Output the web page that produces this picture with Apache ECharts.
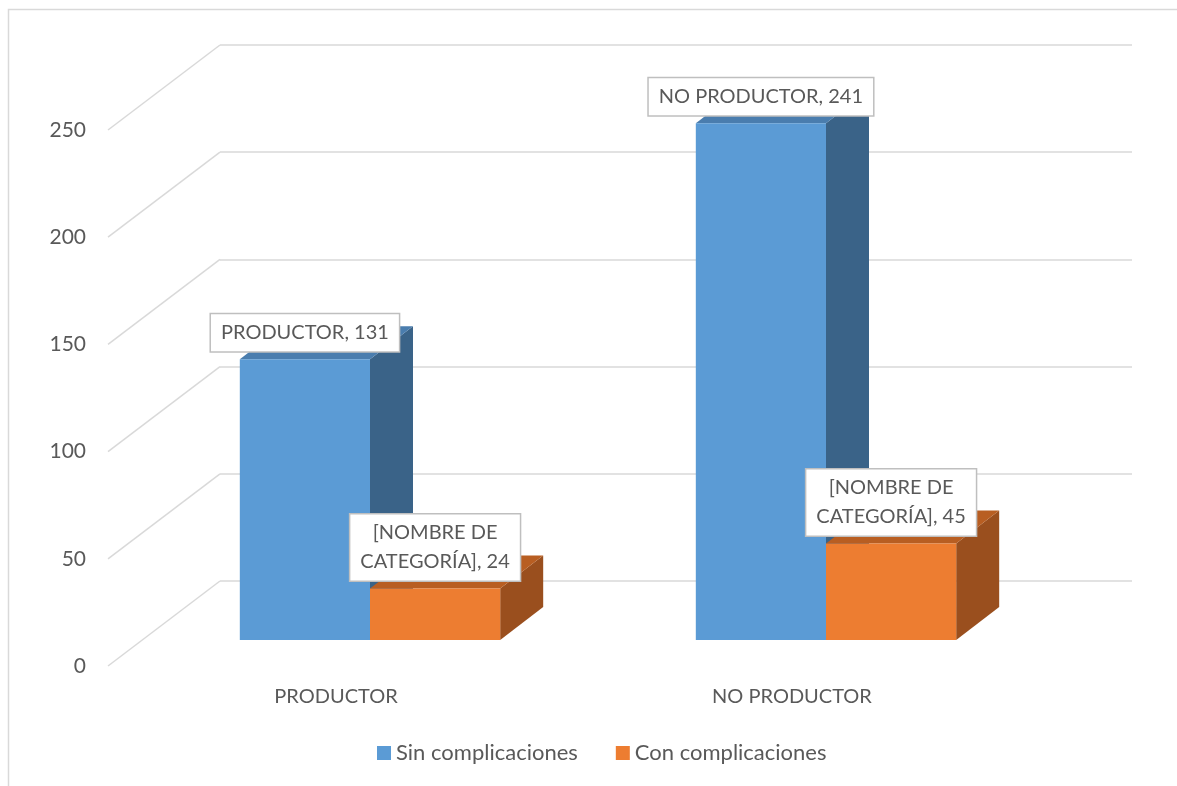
<!DOCTYPE html>
<html><head><meta charset="utf-8">
<script src="https://cdn.jsdelivr.net/npm/echarts@6/dist/echarts.min.js"></script>
<style>html,body{margin:0;padding:0;background:#fff}#c{width:1177px;height:786px}</style>
</head><body><div id="c"></div>
<script>
const categories = ['PRODUCTOR', 'NO PRODUCTOR'];
const seriesNames = ['Sin complicaciones', 'Con complicaciones'];
const sinValues = [131, 241];
const conValues = [24, 45];
const sinLabelNames = ['PRODUCTOR', 'NO PRODUCTOR'];
const conLabelNames = ['[NOMBRE DE\nCATEGORÍA]', '[NOMBRE DE\nCATEGORÍA]'];
const yTicks = [0, 50, 100, 150, 200, 250];
const yMin = 0, yMax = 250, yInterval = 50;

const FONT = 'Lato, "Open Sans", sans-serif';
const TXT = '#595959';
const GRIDC = '#D9D9D9';
const DEPTH_X = 112, DEPTH_Y = 85;
const BAR_DX = 43, BAR_DY = 33;

function barRender(side, colors, labelNames) {
  return function (params, api) {
    const idx = api.value(0), v = api.value(1);
    const base = api.coord([idx, 0]);
    const top = api.coord([idx, v]);
    const band = api.size([1, 0])[0];
    const w = band * 0.2855;
    const x0 = side === 0 ? base[0] - w : base[0];
    const x1 = x0 + w;
    const y0 = base[1], y1 = top[1];
    return {
      type: 'group',
      children: [
        { type: 'polygon', shape: { points: [[x1, y0], [x1 + BAR_DX, y0 - BAR_DY], [x1 + BAR_DX, y1 - BAR_DY], [x1, y1]] }, style: { fill: colors[2] } },
        { type: 'polygon', shape: { points: [[x0, y1], [x0 + BAR_DX, y1 - BAR_DY], [x1 + BAR_DX, y1 - BAR_DY], [x1, y1]] }, style: { fill: colors[1] } },
        { type: 'rect', shape: { x: x0, y: y1, width: w, height: y0 - y1 }, style: { fill: colors[0] } },
        { type: 'text', x: (x0 + x1) / 2, y: y1 - 8, z2: 10,
          style: { text: labelNames[idx] + ', ' + v, fontFamily: FONT, fontSize: 20, fill: TXT,
            align: 'center', verticalAlign: 'bottom', lineHeight: 29,
            backgroundColor: '#fff', borderColor: '#BFBFBF', borderWidth: 1.5, padding: [4, 10, 4, 10] } }
      ]
    };
  };
}

const chart = echarts.init(document.getElementById('c'));
chart.setOption({
  animation: false,
  backgroundColor: '#fff',
  graphic: [{ type: 'rect', shape: { x: 8.5, y: 9.5, width: 1200, height: 800 }, style: { fill: 'none', stroke: '#D9D9D9', lineWidth: 1.5 }, silent: true }],
  grid: [
    { left: 108, top: 130, width: 912, height: 536 },
    { left: 220, top: 45, width: 912, height: 536 },
    { left: 142, top: 104, width: 912, height: 536 }
  ],
  xAxis: [
    { type: 'category', gridIndex: 0, data: categories, axisLine: { show: false }, axisTick: { show: false },
      axisLabel: { fontSize: 20, color: TXT, fontFamily: FONT, margin: 21 } },
    { type: 'category', gridIndex: 1, data: categories, axisLine: { show: false }, axisTick: { show: false }, axisLabel: { show: false } },
    { type: 'category', gridIndex: 2, data: categories, show: false }
  ],
  yAxis: [
    { type: 'value', gridIndex: 0, min: yMin, max: yMax, interval: yInterval, splitLine: { show: false },
      axisLine: { show: false }, axisTick: { show: false },
      axisLabel: { fontSize: 21, color: TXT, fontFamily: FONT, margin: 22 } },
    { type: 'value', gridIndex: 1, min: yMin, max: yMax, interval: yInterval,
      splitLine: { lineStyle: { color: GRIDC, width: 1.5 } },
      axisLine: { show: false }, axisTick: { show: false }, axisLabel: { show: false } },
    { type: 'value', gridIndex: 2, min: yMin, max: yMax, interval: yInterval, show: false }
  ],
  legend: {
    data: seriesNames, icon: 'rect', itemWidth: 14, itemHeight: 14, itemGap: 38,
    left: 377, top: 742, padding: 0, textStyle: { fontSize: 22, color: TXT, fontFamily: FONT }
  },
  series: [
    { type: 'custom', name: 'floor', xAxisIndex: 0, yAxisIndex: 0, silent: true,
      data: yTicks.map(t => [0, t]),
      renderItem: function (params, api) {
        const p = api.coord([0, api.value(1)]);
        const x = params.coordSys.x;
        return { type: 'line', shape: { x1: x, y1: p[1], x2: x + DEPTH_X, y2: p[1] - DEPTH_Y }, style: { stroke: GRIDC, lineWidth: 1.5 } };
      } },
    { type: 'custom', name: seriesNames[0], xAxisIndex: 2, yAxisIndex: 2, itemStyle: { color: '#5B9BD5' },
      data: sinValues.map((v, i) => [i, v]),
      renderItem: barRender(0, ['#5B9BD5', '#4A7DAE', '#3A6388'], sinLabelNames) },
    { type: 'custom', name: seriesNames[1], xAxisIndex: 2, yAxisIndex: 2, itemStyle: { color: '#ED7D31' },
      data: conValues.map((v, i) => [i, v]),
      renderItem: barRender(1, ['#ED7D31', '#B85E22', '#9A4F1E'], conLabelNames) }
  ]
});
</script>
</body></html>
